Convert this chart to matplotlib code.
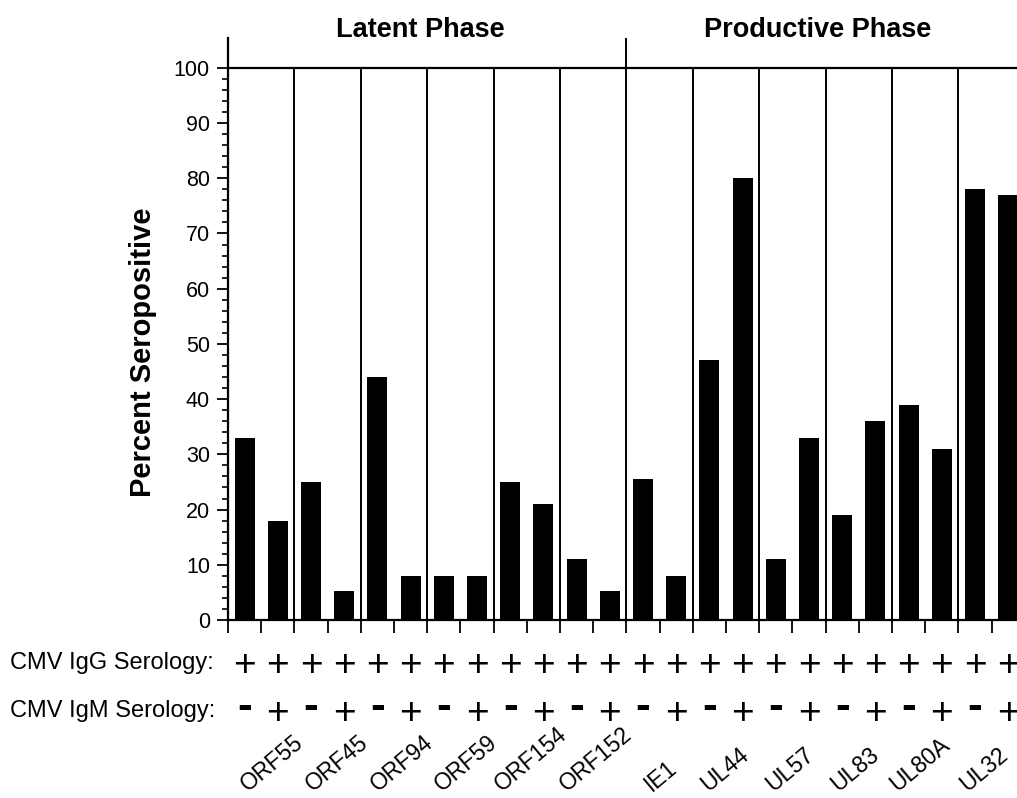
import numpy as np
import matplotlib
matplotlib.use("Agg")
import matplotlib.pyplot as plt
import matplotlib.transforms as mtransforms

plt.rcParams['font.family'] = ['Liberation Sans', 'DejaVu Sans']

# Data
antigens = ['ORF55', 'ORF45', 'ORF94', 'ORF59', 'ORF154', 'ORF152',
            'IE1', 'UL44', 'UL57', 'UL83', 'UL80A', 'UL32']
igm_neg = [33, 25, 44, 8, 25, 11, 25.5, 47, 11, 19, 39, 78]   # IgG+ / IgM-
igm_pos = [18, 5.3, 8, 8, 21, 5.2, 8, 80, 33, 36, 31, 77]     # IgG+ / IgM+
igg_signs = ['+', '+']
igm_signs = ['-', '+']
phases = ['Latent Phase', 'Productive Phase']

# interleave the two serology groups per antigen
values = []
for a, b in zip(igm_neg, igm_pos):
    values += [a, b]
n = len(values)
x = np.arange(n) + 0.5

fig = plt.figure(figsize=(10.17, 7.98), dpi=100)
ax = fig.add_axes([228 / 1017, 178 / 798, 796.8 / 1017, 582 / 798])

ax.bar(x, values, width=0.6, color='black')

ax.set_xlim(0, n)
ax.set_ylim(0, 105.4)

# frame
for s in ['top', 'right']:
    ax.spines[s].set_visible(False)
ax.spines['left'].set_linewidth(1.6)
ax.spines['bottom'].set_linewidth(1.6)
ax.hlines(100, 0, n, color='black', lw=1.6)
for g in range(2, n, 2):
    top = 105.4 if g == n // 2 else 100
    ax.vlines(g, 0, top, color='black', lw=1.4)

# ticks
ax.set_yticks(np.arange(0, 101, 10))
ax.set_yticks(np.arange(0, 101, 2), minor=True)
ax.tick_params(axis='y', which='major', direction='out', length=8, width=1.3,
               labelsize=15.5, pad=5)
ax.tick_params(axis='y', which='minor', direction='out', length=4.5, width=1.2)
ax.set_xticks(np.arange(0, n + 1))
ax.set_xticklabels([])
ax.tick_params(axis='x', direction='out', length=9.5, width=1.3)

fig.text(143 / 1017, 0.5583, 'Percent Seropositive', rotation=90,
         fontsize=21, fontweight='bold', ha='center', va='center')

# phase titles
tr_fig = mtransforms.blended_transform_factory(ax.transData, fig.transFigure)
ax.text(5.8, 0.9536, phases[0], transform=tr_fig, ha='center',
        va='baseline', fontsize=19.5, fontweight='bold')
ax.text(17.75, 0.9536, phases[1], transform=tr_fig, ha='center',
        va='baseline', fontsize=19.5, fontweight='bold')

# serology rows
fig.text(10 / 1017, 0.1617, 'CMV IgG Serology:', fontsize=17, va='baseline')
fig.text(10 / 1017, 0.1015, 'CMV IgM Serology:', fontsize=17, va='baseline')

tr_row = mtransforms.blended_transform_factory(ax.transData, ax.transAxes)
for i in range(n):
    s = igg_signs[i % 2]
    ax.text(x[i], -0.097, s, transform=tr_row, ha='center', va='baseline',
            fontsize=28, clip_on=False)
    s = igm_signs[i % 2]
    if s == '+':
        ax.text(x[i], -0.178, s, transform=tr_row, ha='center',
                va='baseline', fontsize=28, clip_on=False)
    else:
        ax.text(x[i], -0.170, s, transform=tr_row, ha='center',
                va='baseline', fontsize=32, fontweight='bold', clip_on=False)

# antigen labels (slightly tighter spacing than the groups, as in the figure)
for j, name in enumerate(antigens):
    lx = (2 * j + 1) * 0.975 + 0.35
    ax.text(lx, 2 / 798, name, transform=tr_fig, rotation=40,
            ha='center', va='bottom', fontsize=16.5)

fig.savefig('out.png', dpi=100)
